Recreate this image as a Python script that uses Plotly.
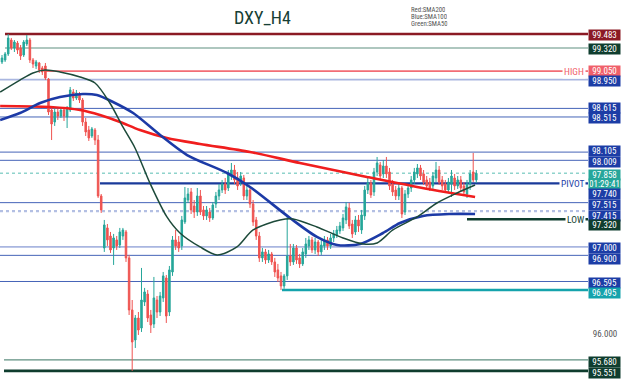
import plotly.graph_objects as go

# ---------------- data ----------------
opens = [99.157, 99.180, 99.250, 99.413, 99.320, 99.378, 99.320, 99.238, 99.367, 99.413,
         99.180, 99.110, 99.145, 99.087, 99.110, 98.958, 98.596, 98.456, 98.573, 98.526,
         98.596, 98.515, 98.596, 98.806, 98.736, 98.783, 98.713, 98.456, 98.363, 98.293,
         98.363, 98.246, 97.593, 96.986, 97.220, 97.126, 96.986, 97.080, 97.021, 97.126,
         97.173, 96.870, 96.263, 95.912, 96.169, 96.052, 96.356, 96.449, 96.204, 96.099,
         96.379, 96.239, 96.403, 96.636, 96.239, 96.706, 97.080, 97.056, 97.010, 97.290,
         97.546, 97.640, 97.476, 97.406, 97.593, 97.430, 97.360, 97.406, 97.336, 97.500,
         97.593, 97.663, 97.733, 97.686, 97.826, 97.896, 97.803, 97.756, 97.803, 97.593,
         97.663, 97.500, 97.313, 97.126, 96.870, 96.940, 96.846, 96.916, 96.823, 96.730,
         96.660, 96.543, 96.660, 96.893, 96.823, 96.986, 96.870, 96.800, 96.916, 97.010,
         97.080, 96.963, 97.056, 96.940, 97.010, 97.080, 97.010, 97.103, 97.138, 97.185,
         97.220, 97.313, 97.453, 97.266, 97.173, 97.313, 97.196, 97.360, 97.663, 97.745,
         97.640, 97.873, 97.955, 97.850, 97.943, 97.873, 97.733, 97.663, 97.593, 97.686,
         97.406, 97.616, 97.686, 97.780, 97.850, 97.920, 97.850, 97.780, 97.756, 97.710,
         97.803, 97.896, 97.780, 97.733, 97.663, 97.733, 97.803, 97.710, 97.780, 97.710,
         97.616, 97.733, 97.873, 97.780]
highs = [99.238, 99.273, 99.483, 99.437, 99.413, 99.402, 99.355, 99.413, 99.472, 99.437,
         99.203, 99.180, 99.157, 99.110, 99.145, 98.970, 98.631, 98.620, 98.608, 98.631,
         98.620, 98.643, 98.865, 98.841, 98.830, 98.806, 98.736, 98.503, 98.410, 98.398,
         98.386, 98.305, 97.616, 97.313, 97.266, 97.173, 97.150, 97.126, 97.220, 97.220,
         97.196, 96.905, 96.379, 96.204, 96.239, 96.753, 96.520, 96.496, 96.263, 96.648,
         96.426, 96.473, 96.706, 96.671, 96.776, 97.126, 97.196, 97.126, 97.360, 97.698,
         97.686, 97.686, 97.546, 97.686, 97.663, 97.476, 97.476, 97.453, 97.523, 97.640,
         97.733, 97.780, 97.803, 97.896, 97.978, 97.955, 97.873, 97.873, 97.838, 97.710,
         97.698, 97.546, 97.348, 97.173, 96.986, 96.975, 96.963, 96.940, 96.870, 96.800,
         96.706, 96.683, 97.371, 97.033, 97.033, 97.021, 96.916, 96.986, 97.103, 97.126,
         97.115, 97.103, 97.080, 97.080, 97.126, 97.115, 97.150, 97.196, 97.243, 97.290,
         97.383, 97.523, 97.511, 97.313, 97.360, 97.371, 97.430, 97.710, 97.803, 97.780,
         97.920, 98.048, 97.990, 98.013, 98.048, 97.920, 97.780, 97.710, 97.733, 97.710,
         97.663, 97.733, 97.826, 97.920, 97.966, 97.955, 97.896, 97.826, 97.803, 97.873,
         97.990, 97.943, 97.826, 97.780, 97.803, 97.896, 97.850, 97.826, 97.826, 97.756,
         97.780, 97.896, 98.095, 97.896]
lows = [99.133, 99.157, 99.227, 99.296, 99.273, 99.250, 99.180, 99.215, 99.343, 99.145,
        99.087, 99.075, 99.028, 99.005, 98.946, 98.538, 98.246, 98.410, 98.480, 98.503,
        98.468, 98.386, 98.573, 98.701, 98.713, 98.678, 98.410, 98.293, 98.235, 98.270,
        98.188, 97.570, 97.395, 96.940, 97.010, 96.928, 96.788, 96.963, 96.986, 97.080,
        96.823, 96.204, 95.551, 95.819, 95.971, 96.006, 96.309, 96.122, 95.994, 96.052,
        96.169, 96.192, 96.356, 96.111, 96.192, 96.660, 96.963, 96.940, 96.963, 97.266,
        97.511, 97.383, 97.336, 97.360, 97.371, 97.313, 97.313, 97.290, 97.313, 97.453,
        97.546, 97.628, 97.616, 97.651, 97.780, 97.733, 97.663, 97.710, 97.546, 97.546,
        97.453, 97.243, 97.080, 96.823, 96.823, 96.800, 96.811, 96.788, 96.648, 96.589,
        96.495, 96.510, 96.613, 96.776, 96.788, 96.800, 96.753, 96.776, 96.870, 96.963,
        96.928, 96.916, 96.893, 96.905, 96.963, 96.963, 96.975, 97.056, 97.103, 97.150,
        97.185, 97.266, 97.208, 97.103, 97.138, 97.173, 97.150, 97.313, 97.616, 97.570,
        97.593, 97.826, 97.780, 97.803, 97.803, 97.663, 97.593, 97.546, 97.546, 97.336,
        97.371, 97.570, 97.640, 97.733, 97.803, 97.780, 97.721, 97.663, 97.651, 97.675,
        97.756, 97.721, 97.663, 97.628, 97.628, 97.581, 97.663, 97.675, 97.640, 97.593,
        97.570, 97.663, 97.756, 97.745]
closes = [99.203, 99.250, 99.437, 99.320, 99.390, 99.296, 99.227, 99.390, 99.413, 99.180,
          99.133, 99.157, 99.063, 99.040, 98.970, 98.573, 98.433, 98.573, 98.526, 98.596,
          98.526, 98.620, 98.830, 98.736, 98.795, 98.713, 98.456, 98.340, 98.270, 98.375,
          98.246, 97.593, 97.430, 97.255, 97.080, 96.963, 97.103, 97.010, 97.173, 97.196,
          96.870, 96.263, 95.889, 96.169, 96.029, 96.379, 96.473, 96.169, 96.087, 96.403,
          96.239, 96.426, 96.660, 96.192, 96.730, 97.080, 97.010, 96.986, 97.313, 97.570,
          97.616, 97.430, 97.406, 97.593, 97.406, 97.360, 97.430, 97.336, 97.488, 97.593,
          97.663, 97.733, 97.663, 97.850, 97.896, 97.780, 97.710, 97.826, 97.593, 97.663,
          97.500, 97.290, 97.126, 96.870, 96.940, 96.846, 96.916, 96.823, 96.706, 96.636,
          96.543, 96.660, 96.893, 96.823, 96.986, 96.846, 96.800, 96.940, 97.033, 97.080,
          96.963, 97.056, 96.940, 97.021, 97.080, 97.010, 97.103, 97.150, 97.196, 97.243,
          97.336, 97.465, 97.243, 97.150, 97.313, 97.243, 97.371, 97.663, 97.745, 97.605,
          97.873, 97.978, 97.826, 97.943, 97.850, 97.710, 97.640, 97.593, 97.686, 97.383,
          97.616, 97.686, 97.780, 97.873, 97.920, 97.826, 97.756, 97.710, 97.686, 97.826,
          97.896, 97.756, 97.710, 97.663, 97.756, 97.826, 97.710, 97.780, 97.686, 97.640,
          97.733, 97.850, 97.780, 97.858]
bars = list(range(len(opens)))

sma200_x = [-0.6, 15.5, 25.2, 31.6, 38.1, 44.5, 53.2, 63.9, 80.0, 96.1, 117.7, 133.9, 152.6]
sma200_y = [98.643, 98.631, 98.596, 98.538, 98.456, 98.363, 98.270, 98.200, 98.107, 97.978,
            97.815, 97.698, 97.581]
sma100_x = [-0.6, 5.8, 12.3, 18.7, 26.1, 30.6, 35.8, 42.3, 51.0, 59.7, 72.6, 80.0, 92.9,
            101.6, 108.1, 115.5, 122.9, 128.4, 135.8, 144.5, 152.6]
sma100_y = [98.480, 98.561, 98.678, 98.748, 98.783, 98.771, 98.690, 98.561, 98.305, 98.071,
            97.861, 97.698, 97.336, 97.115, 97.021, 97.033, 97.161, 97.278, 97.360, 97.383,
            97.383]
sma50_x = [-0.6, 5.8, 10.0, 13.9, 18.7, 25.2, 30.0, 34.8, 39.0, 42.9, 47.7, 53.2, 57.4,
           63.9, 69.4, 75.8, 81.0, 89.7, 93.9, 101.6, 110.0, 116.5, 121.0, 126.1, 133.9,
           140.3, 146.8, 152.6]
sma50_y = [98.806, 98.946, 99.028, 99.063, 99.040, 98.981, 98.911, 98.678, 98.398, 98.153,
           97.745, 97.348, 97.161, 96.998, 96.905, 96.998, 97.196, 97.313, 97.325, 97.231,
           97.103, 97.033, 97.045, 97.196, 97.348, 97.511, 97.628, 97.721]

level_values = [99.483, 99.320, 99.050, 98.950, 98.615, 98.515, 98.105, 98.009, 97.858,
                97.740, 97.515, 97.415, 97.320, 97.000, 96.900, 96.595, 96.495, 95.680, 95.551]
level_labels = ["99.483", "99.320", "99.050", "98.950", "98.615", "98.515", "98.105", "98.009",
                "97.858", "97.740", "97.515", "97.415", "97.320", "97.000", "96.900",
                "96.595", "96.495", "95.680", "95.551"]
countdown = "01:29:41"
level_names = {2: "HIGH", 9: "PIVOT", 12: "LOW"}
plain_tick = 96.000

# ---------------- styles ----------------
PLOT_W = 588.0
FONT = "Roboto Condensed, DejaVu Sans Condensed, Liberation Sans Narrow, Roboto"
DKRED, DKGRN, LTRED, BLUE, TEAL, TEAL2 = "#8b1a24", "#0f3d2e", "#f0606a", "#1c3da6", "#26a69a", "#14a3ac"
THIN = "#4564b8"
LIGHT = "#a9b6e0"
# (line colour, width, dash, start px, label bg colour, label pixel shift)
level_style = [
    (DKRED, 2.5, "solid", 5, DKRED, -1),
    ("#5f8f80", 1.2, "solid", 5, DKGRN, -1),
    ("#f26d75", 1.8, "solid", 45, LTRED, 0),
    (LIGHT, 1.8, "solid", 0, BLUE, -1),
    (THIN, 1, "solid", 0, BLUE, 0.8),
    (THIN, 1, "solid", 0, BLUE, -0.8),
    (THIN, 1, "solid", 0, BLUE, 1),
    (THIN, 1, "solid", 0, BLUE, -1.4),
    ("#8fd3cc", 1.3, "dot", 0, TEAL, -1.7),
    ("#1a3a9a", 2.2, "solid", 100, BLUE, -10.6),
    (THIN, 1, "solid", 0, BLUE, -2.3),
    ("#b3bfe3", 2.2, "dot", 0, BLUE, -4.5),
    (DKGRN, 2.5, "solid", 467, DKGRN, -5.8),
    (LIGHT, 1.8, "solid", 0, BLUE, -1.7),
    (THIN, 1, "solid", 0, BLUE, -3.6),
    (THIN, 1, "solid", 0, BLUE, -1.2),
    (TEAL2, 2.5, "solid", 282, TEAL2, -3.2),
    ("#5f8f80", 1.2, "solid", 4, DKGRN, -1.8),
    (DKGRN, 2.8, "solid", 4, DKGRN, -2.3),
]
name_colors = {2: "#f0606a", 9: "#1c3da6", 12: "#0f3d2e"}
CURRENT = 8

fig = go.Figure()
fig.add_trace(go.Candlestick(
    x=bars, open=opens, high=highs, low=lows, close=closes,
    increasing=dict(line=dict(color="#26a69a", width=1), fillcolor="#26a69a"),
    decreasing=dict(line=dict(color="#ef5350", width=1), fillcolor="#ef5350"),
    whiskerwidth=0, showlegend=False, hoverinfo="skip"))

for xs, ys, col, w in [(sma200_x, sma200_y, "#f01e1e", 2.6),
                       (sma100_x, sma100_y, "#1c3aa6", 2.6),
                       (sma50_x, sma50_y, "#1d4a3a", 1.5)]:
    fig.add_trace(go.Scatter(x=xs, y=ys, mode="lines", showlegend=False, hoverinfo="skip",
                             line=dict(color=col, width=w, shape="spline", smoothing=0.8)))

shapes = []
annotations = []


def box(val, text, bg, shift):
    return dict(xref="paper", yref="y", x=1, y=val, xanchor="left", yanchor="middle",
                yshift=shift, text=text, showarrow=False, bgcolor=bg, borderpad=1,
                width=29, height=7.5, align="center",
                font=dict(family=FONT, size=9, color="white"))


for k, (val, lab) in enumerate(zip(level_values, level_labels)):
    col, w, dash, x0, bg, shift = level_style[k]
    shapes.append(dict(type="line", xref="paper", yref="y", x0=x0 / PLOT_W, x1=1,
                       y0=val, y1=val, line=dict(color=col, width=w, dash=dash), layer="below"))
    annotations.append(box(val, lab, bg, shift))
    if k == CURRENT:
        annotations.append(box(val, countdown, bg, shift - 9))
    if k in level_names:
        annotations.append(dict(xref="paper", yref="y", x=586 / PLOT_W, y=val, xanchor="right",
                                yanchor="middle", text=level_names[k], showarrow=False,
                                bgcolor="white", borderpad=1,
                                font=dict(family=FONT, size=9.5, color=name_colors[k])))

annotations.append(dict(xref="paper", yref="y", x=1, y=plain_tick, xanchor="left",
                        yanchor="middle", yshift=-1.5, text="96.000", showarrow=False, width=30,
                        font=dict(family=FONT, size=9, color="#555555")))
annotations.append(dict(xref="paper", yref="paper", x=262 / PLOT_W, y=1 - 17 / 385.0,
                        xanchor="center", yanchor="middle", text="DXY_H4", showarrow=False,
                        font=dict(family=FONT, size=18, color="#173f35")))
for j, t in enumerate(["Red:SMA200", "Blue:SMA100", "Green:SMA50"]):
    annotations.append(dict(xref="paper", yref="paper", x=409 / PLOT_W,
                            y=1 - (9.5 + 7 * j) / 385.0, xanchor="left", yanchor="middle",
                            text=t, showarrow=False, height=7,
                            font=dict(family=FONT, size=6.8, color="#555555")))

fig.update_layout(
    width=625, height=385, margin=dict(l=0, r=37, t=0, b=0),
    paper_bgcolor="white", plot_bgcolor="white",
    shapes=shapes, annotations=annotations, showlegend=False,
    xaxis=dict(range=[-0.645, 189.03], visible=False, rangeslider=dict(visible=False),
               fixedrange=True),
    yaxis=dict(range=[95.387, 99.880], visible=False, fixedrange=True),
)
fig.write_html("out.html", config={"displayModeBar": False})
